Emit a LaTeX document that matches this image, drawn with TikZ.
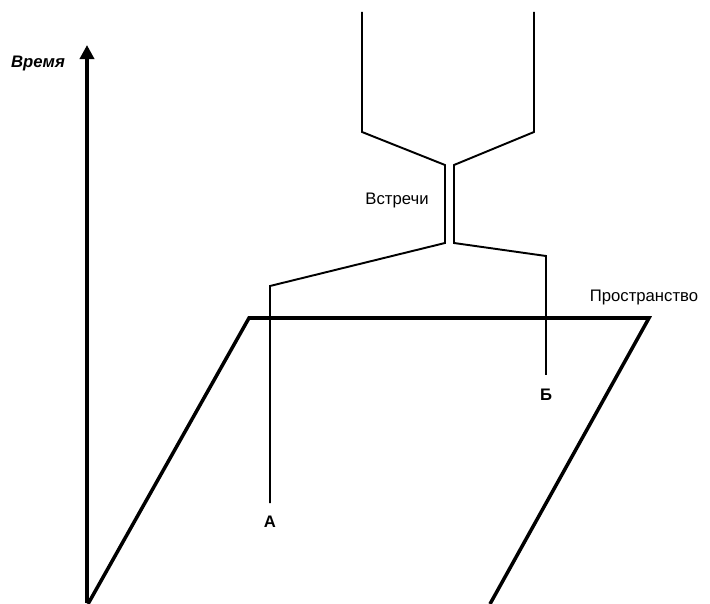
\documentclass[tikz,border=0pt]{standalone}
\usepackage{fontspec}
\setmainfont{Liberation Sans}
\usetikzlibrary{arrows.meta}
\tikzset{
  axisline/.style={line width=2pt},
  worldline/.style={line width=1.1pt, line join=miter},
  lbl/.style={font=\fontsize{9.5}{11}\selectfont, inner sep=0pt}
}
\begin{document}
\begin{tikzpicture}[x=0.02cm, y=-0.02cm]
\useasboundingbox (0,0) rectangle (710,604);
% time axis
\coordinate (t0) at (87,603);
\coordinate (t1) at (87,45);
\draw[axisline, -{Triangle[width=8pt, length=8pt]}] (t0) -- (t1);
\node[lbl, font=\fontsize{9.5}{11}\selectfont\bfseries\itshape] (vremya) at (38,63) {Время};
% space plane
\coordinate (p1) at (249,318);
\coordinate (p2) at (649,318);
\coordinate (p3) at (490,604);
\coordinate (p4) at (88,604);
\draw[axisline, line join=miter] (p4) -- (p1) -- (p2) -- (p3);
\node[lbl] (prostr) at (644,297) {Пространство};
% world line A
\coordinate (a0) at (270,503);
\coordinate (a1) at (270,286);
\coordinate (a2) at (445,243);
\coordinate (a3) at (445,165);
\coordinate (a4) at (362,132);
\coordinate (a5) at (362,12);
\draw[worldline] (a0) -- (a1) -- (a2) -- (a3) -- (a4) -- (a5);
\node[lbl, font=\fontsize{9.5}{11}\selectfont\bfseries] (labA) at (270,522) {А};
% world line B
\coordinate (b0) at (546,375);
\coordinate (b1) at (546,256);
\coordinate (b2) at (454,243);
\coordinate (b3) at (454,165);
\coordinate (b4) at (534,132);
\coordinate (b5) at (534,12);
\draw[worldline] (b0) -- (b1) -- (b2) -- (b3) -- (b4) -- (b5);
\node[lbl, font=\fontsize{9.5}{11}\selectfont\bfseries] (labB) at (546,395) {Б};
\node[lbl] (meet) at (397,200) {Встречи};
\end{tikzpicture}
\end{document}
